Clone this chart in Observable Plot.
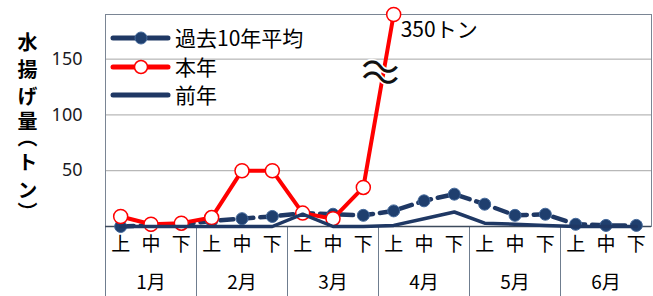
<!DOCTYPE html>
<html>
<head>
<meta charset="utf-8">
<script src="https://cdn.jsdelivr.net/npm/d3@7"></script>
<script src="https://cdn.jsdelivr.net/npm/@observablehq/plot@0.6"></script>
<style>
  body { margin: 0; background: #fff; }
  #chart { width: 653px; height: 296px; }
</style>
</head>
<body>
<div id="chart"></div>
<script>
// ---- data ----
const periods = ["上", "中", "下"];
const months = ["1月", "2月", "3月", "4月", "5月", "6月"];
const avg10 = [0, 1, 2, 5, 7, 9, 12, 11, 10, 14, 23, 29, 20, 10, 11, 2, 1, 1];
const thisYear = [9, 2, 3, 8, 50, 50, 12, 7, 35, 350];
const lastYear = [0, 0, 0, 0, 0, 0, 11, 0, 0, 1, 7, 13, 3, 2, 1, 0, 0, 0];
const yTicks = [50, 100, 150];
const yMax = 190;          // top of the broken axis
const seriesNames = ["過去10年平均", "本年", "前年"];
const peakLabel = "350トン";
const yLabelChars = ["水", "揚", "げ", "量", "（", "ト", "ン", "）"];

// ---- derived tables ----
const toRows = arr => arr.map((v, i) => ({i, v}));
const avgRows = toRows(avg10);
const thisRows = toRows(thisYear);
const lastRows = toRows(lastYear);
const nPeriods = months.length * periods.length;
const boundaries = months.map((m, j) => j * 3 - 0.5);
const periodIdx = d3.range(nPeriods);
const peakIdx = thisYear.findIndex(v => v > yMax);
const capped = d => Math.min(d.v, yMax);
const breakAt = [{i: peakIdx - 0.45, v: 136}];

const navy = "#1f3864";
const red = "#ff0000";
const jp = "'Noto Sans CJK JP', 'Noto Sans', sans-serif";

const tilde = dy => Plot.text(breakAt, {
  x: "i", y: "v", text: () => "～", dy, rotate: 8,
  fontSize: 38, fill: "#111", stroke: "#fff", strokeWidth: 3,
  fontFamily: "'Noto Sans CJK JP', sans-serif", lineAnchor: "middle"
});

const plot = Plot.plot({
  width: 653,
  height: 296,
  marginLeft: 105,
  marginRight: 2,
  marginTop: 14,
  marginBottom: 70,
  style: {fontFamily: jp, background: "#fff", overflow: "visible"},
  x: {type: "linear", domain: [-0.5, nPeriods - 0.5], axis: null},
  y: {domain: [0, yMax], axis: null},
  marks: [
    Plot.gridY(yTicks, {stroke: "#a6a6a6", strokeOpacity: 1}),
    Plot.frame({stroke: "#7a8594"}),
    Plot.axisX({ticks: boundaries, tickSize: 70, tickFormat: () => "", label: null, stroke: "#6f7d8f", strokeOpacity: 1}),
    Plot.ruleY([0], {stroke: "#3c4a5c", strokeWidth: 1.5}),
    Plot.axisY({ticks: yTicks, tickSize: 0, tickPadding: 23, label: null, fontSize: 18, fill: "#1a1a24", fontFamily: "'Noto Sans', sans-serif"}),
    // x labels
    Plot.text(periodIdx, {x: d => d, text: d => periods[d % 3], frameAnchor: "bottom", dy: 18.5, fontSize: 19, fill: "#000", lineAnchor: "middle"}),
    Plot.text(months, {x: (d, j) => j * 3 + 1, text: d => d, frameAnchor: "bottom", dy: 56, fontSize: 19, fill: "#000", lineAnchor: "middle"}),
    // series: past 10-year average
    Plot.line(avgRows, {x: "i", y: "v", stroke: navy, strokeWidth: 4.5, strokeDasharray: "13,7"}),
    Plot.dot(avgRows, {x: "i", y: "v", r: 6, fill: "#1f3f6e", stroke: "#44699b", strokeWidth: 1}),
    // this year
    Plot.line(thisRows, {x: "i", y: capped, stroke: red, strokeWidth: 4}),
    tilde(-6),
    tilde(5),
    Plot.dot(thisRows, {x: "i", y: capped, r: 7, fill: "#fff", stroke: red, strokeWidth: 1.5}),
    // last year
    Plot.line(lastRows, {x: "i", y: "v", stroke: navy, strokeWidth: 3.5}),
    // peak annotation
    Plot.text([{i: peakIdx, v: yMax}], {x: "i", y: "v", text: () => peakLabel, textAnchor: "start", dx: 7, dy: 16, fontSize: 21, fill: "#000", lineAnchor: "middle"})
  ]
});

document.getElementById("chart").appendChild(plot);
const svg = d3.select(plot);

// ---- vertical y-axis title: one vertical text per character ----
const yCharStarts = [32, 59, 86, 111, 127, 152, 180, 202];
const yt = svg.append("g")
  .attr("text-anchor", "start")
  .attr("font-family", jp).attr("font-size", 20).attr("font-weight", "bold")
  .attr("fill", "#000");
yLabelChars.forEach((ch, k) => {
  yt.append("text").attr("x", 27.5).attr("y", yCharStarts[k])
    .style("writing-mode", "vertical-rl").text(ch);
});

// ---- legend (inside the plot area, top-left) ----
const lg = svg.append("g").attr("font-family", jp).attr("font-size", 21).attr("text-anchor", "start");
const rowsY = [38, 67, 95];
// avg
lg.append("line").attr("x1", 113).attr("x2", 168).attr("y1", rowsY[0]).attr("y2", rowsY[0])
  .attr("stroke", navy).attr("stroke-width", 5).attr("stroke-linecap", "round").attr("stroke-dasharray", "22,13");
lg.append("circle").attr("cx", 141).attr("cy", rowsY[0]).attr("r", 6).attr("fill", "#1f3f6e").attr("stroke", "#44699b");
// this year
lg.append("line").attr("x1", 113).attr("x2", 168).attr("y1", rowsY[1]).attr("y2", rowsY[1])
  .attr("stroke", red).attr("stroke-width", 5).attr("stroke-linecap", "round");
lg.append("circle").attr("cx", 141).attr("cy", rowsY[1]).attr("r", 6.5).attr("fill", "#fff").attr("stroke", red).attr("stroke-width", 1.5);
// last year
lg.append("line").attr("x1", 113).attr("x2", 168).attr("y1", rowsY[2]).attr("y2", rowsY[2])
  .attr("stroke", navy).attr("stroke-width", 5).attr("stroke-linecap", "round");
seriesNames.forEach((name, k) => {
  lg.append("text").attr("x", 175).attr("y", rowsY[k]).attr("dy", "0.36em").attr("fill", "#000").text(name);
});
</script>
</body>
</html>
